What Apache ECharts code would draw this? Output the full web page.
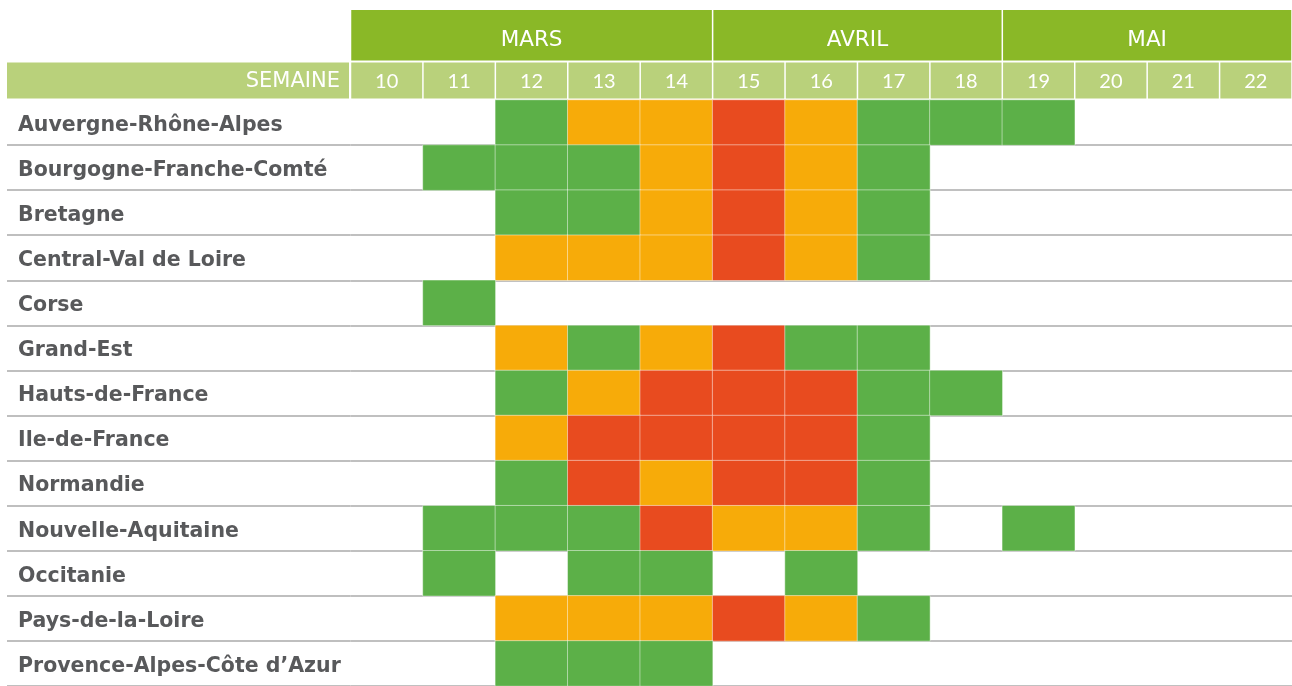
<!DOCTYPE html>
<html><head><meta charset="utf-8">
<script src="https://cdn.jsdelivr.net/npm/echarts@6/dist/echarts.min.js"></script>
<style>html,body{margin:0;padding:0;background:#fff}#c{width:1292px;height:686px}</style>
</head><body><div id="c"></div>
<script>
// ---- data ----
const weeks = ['10','11','12','13','14','15','16','17','18','19','20','21','22'];
const months = ['MARS','AVRIL','MAI'];
const monthFirstWeek = ['10','15','19'];
const monthLastWeek = ['14','18','22'];
const weekHeaderLabel = 'SEMAINE';
const regions = ['Auvergne-Rhône-Alpes','Bourgogne-Franche-Comté','Bretagne','Central-Val de Loire','Corse','Grand-Est','Hauts-de-France','Ile-de-France','Normandie','Nouvelle-Aquitaine','Occitanie','Pays-de-la-Loire','Provence-Alpes-Côte d’Azur'];
// status per week 10..22 : 0 = none, 1 = green, 2 = orange, 3 = red
const auvergne   = [0,0,1,2,2,3,2,1,1,1,0,0,0];
const bourgogne  = [0,1,1,1,2,3,2,1,0,0,0,0,0];
const bretagne   = [0,0,1,1,2,3,2,1,0,0,0,0,0];
const centreVdl  = [0,0,2,2,2,3,2,1,0,0,0,0,0];
const corse      = [0,1,0,0,0,0,0,0,0,0,0,0,0];
const grandEst   = [0,0,2,1,2,3,1,1,0,0,0,0,0];
const hautsDeFr  = [0,0,1,2,3,3,3,1,1,0,0,0,0];
const ileDeFr    = [0,0,2,3,3,3,3,1,0,0,0,0,0];
const normandie  = [0,0,1,3,2,3,3,1,0,0,0,0,0];
const nouvAquit  = [0,1,1,1,3,2,2,1,0,1,0,0,0];
const occitanie  = [0,1,0,1,1,0,1,0,0,0,0,0,0];
const paysLoire  = [0,0,2,2,2,3,2,1,0,0,0,0,0];
const provence   = [0,0,1,1,1,0,0,0,0,0,0,0,0];
const statusRows = [auvergne,bourgogne,bretagne,centreVdl,corse,grandEst,hautsDeFr,ileDeFr,normandie,nouvAquit,occitanie,paysLoire,provence];

const GREEN = '#5CB048', ORANGE = '#F7AB09', RED = '#E84B1F';
const HEAD_DARK = '#8AB827', HEAD_LIGHT = '#B9D17B';

const cells = [];
statusRows.forEach((row, r) => row.forEach((s, w) => { if (s > 0) cells.push([w, r, s]); }));

const weekItems = weeks.map((w, i) => [i, 0]);
const monthItems = months.map((m, k) => [weeks.indexOf(monthFirstWeek[k]), 0, weeks.indexOf(monthLastWeek[k])]);

const chart = echarts.init(document.getElementById('c'), null, {renderer: 'canvas'});
chart.setOption({
  animation: false,
  backgroundColor: '#fff',
  grid: {left: 350.5, top: 100, width: 941.5, height: 589.3, containLabel: false},
  xAxis: {
    type: 'category', data: weeks, position: 'top',
    axisLine: {show: false}, axisTick: {show: false}, axisLabel: {show: false}, splitLine: {show: false}
  },
  yAxis: {
    type: 'category', data: regions, inverse: true,
    axisLine: {show: false},
    axisTick: {show: true, length: 343.5, lineStyle: {color: '#ABABAB', width: 1.5}, interval: (i) => i !== 0},
    splitLine: {show: true, lineStyle: {color: '#ABABAB', width: 1.5}, interval: (i) => i !== 0},
    axisLabel: {
      align: 'left', verticalAlign: 'middle', margin: 332.5,
      formatter: (v) => '{r|' + v + '}',
      rich: {r: {padding: [6, 0, 0, 0], color: '#58595B', fontSize: 20.5, fontWeight: 'bold', fontFamily: 'DejaVu Sans'}}
    }
  },
  visualMap: {
    type: 'piecewise', show: false, dimension: 2, seriesIndex: 0,
    pieces: [{value: 1, color: GREEN}, {value: 2, color: ORANGE}, {value: 3, color: RED}]
  },
  graphic: [
    {type: 'rect', left: 7, top: 62.5, shape: {width: 342, height: 36}, style: {fill: HEAD_LIGHT}, z: 10},
    {type: 'text', right: 1292 - 340, top: 71, style: {text: weekHeaderLabel, fill: '#fff', font: '21px "DejaVu Sans"'}, z: 11}
  ],
  series: [
    {
      type: 'heatmap', data: cells,
      itemStyle: {borderColor: 'rgba(255,255,255,0.45)', borderWidth: 1},
      emphasis: {disabled: true}, z: 3
    },
    {
      type: 'custom', data: weekItems, clip: false, z: 4, silent: true,
      encode: {x: 0, y: 1},
      renderItem: function (params, api) {
        const c = api.coord([api.value(0), 0]);
        const sz = api.size([1, 1]);
        const top = c[1] - sz[1] / 2;
        return {type: 'group', children: [
          {type: 'rect', shape: {x: c[0] - sz[0] / 2 + 0.75, y: top - 37.5, width: sz[0] - 1.5, height: 36}, style: {fill: HEAD_LIGHT}},
          {type: 'text', style: {text: weeks[params.dataIndex], x: c[0], y: top - 18.5, align: 'center', verticalAlign: 'middle', fill: '#fff', font: '20px Lato'}}
        ]};
      }
    },
    {
      type: 'custom', data: monthItems, clip: false, z: 4, silent: true,
      encode: {x: 0, y: 1},
      renderItem: function (params, api) {
        const c0 = api.coord([api.value(0), 0]);
        const c1 = api.coord([api.value(2), 0]);
        const sz = api.size([1, 1]);
        const top = c0[1] - sz[1] / 2;
        const x0 = c0[0] - sz[0] / 2, x1 = c1[0] + sz[0] / 2;
        return {type: 'group', children: [
          {type: 'rect', shape: {x: x0 + 0.75, y: top - 90, width: x1 - x0 - 1.5, height: 50.5}, style: {fill: HEAD_DARK}},
          {type: 'text', style: {text: months[params.dataIndex], x: (x0 + x1) / 2, y: top - 60, align: 'center', verticalAlign: 'middle', fill: '#fff', font: '21.5px "DejaVu Sans"'}}
        ]};
      }
    }
  ]
});
</script>
</body></html>
